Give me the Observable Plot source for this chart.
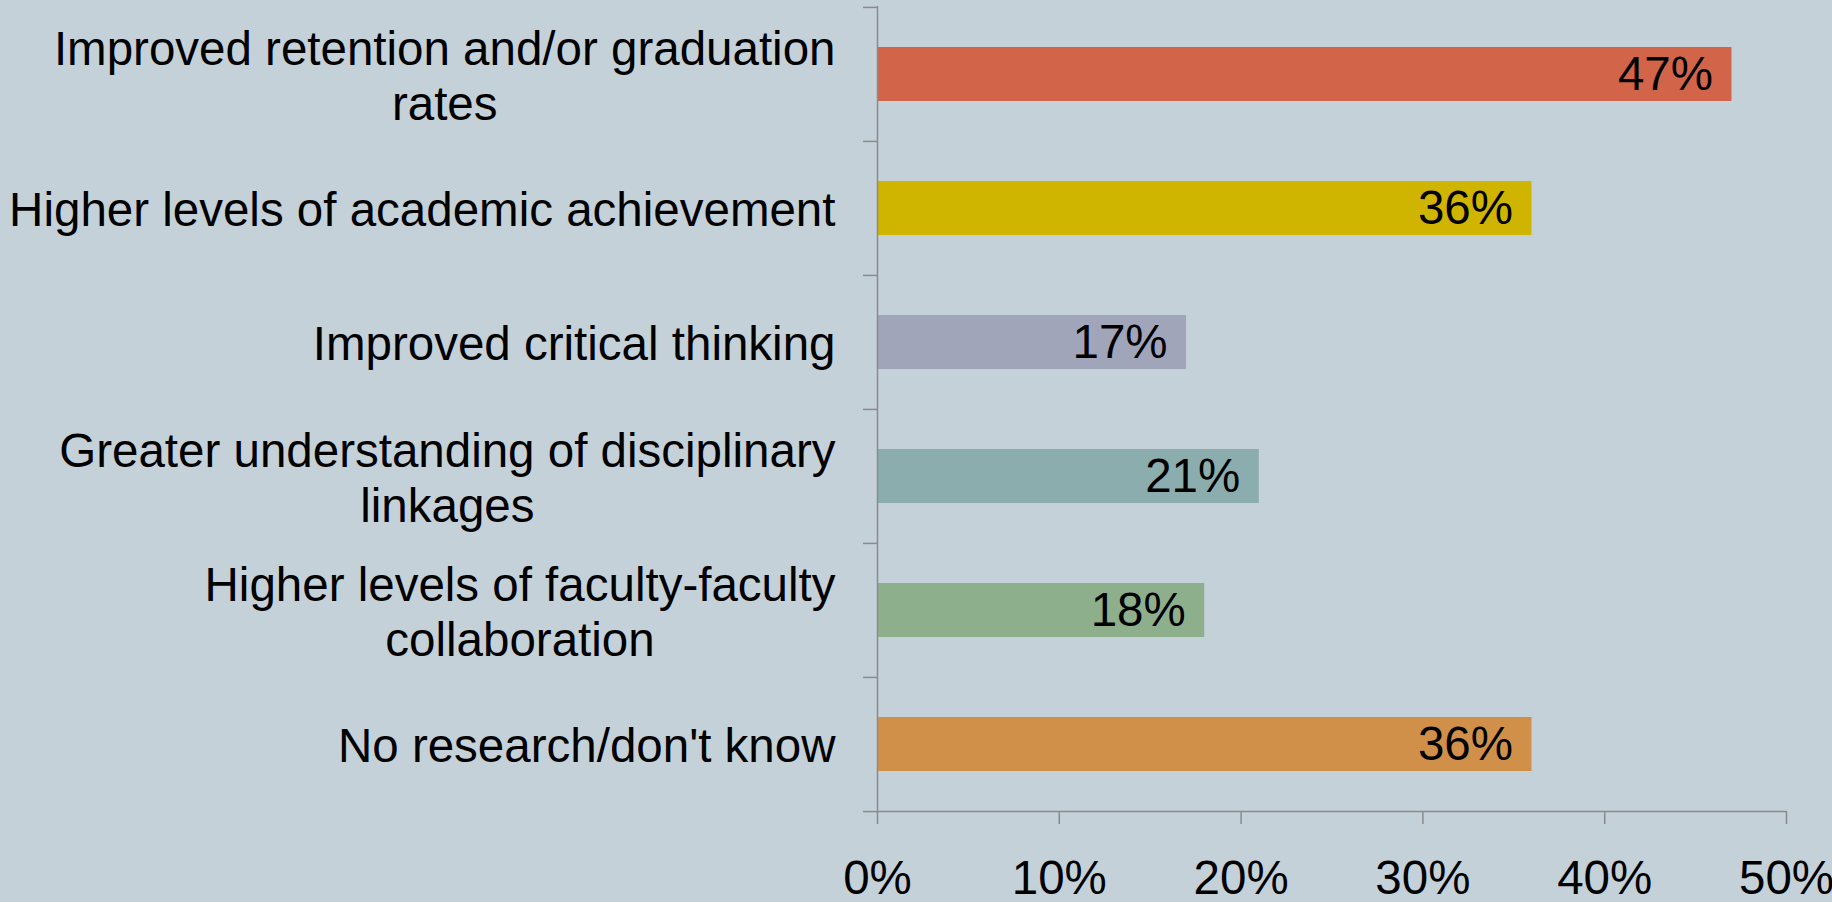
<!DOCTYPE html>
<html><head><meta charset="utf-8">
<script src="https://cdn.jsdelivr.net/npm/d3@7"></script>
<script src="https://cdn.jsdelivr.net/npm/@observablehq/plot@0.6"></script>
<style>
html,body{margin:0;padding:0;background:#C5D1D8;overflow:hidden}
#chart{width:1832px;height:902px}
</style></head><body><div id="chart"></div>
<script>
const categories = [
  "Improved retention and/or graduation rates",
  "Higher levels of academic achievement",
  "Improved critical thinking",
  "Greater understanding of disciplinary linkages",
  "Higher levels of faculty-faculty collaboration",
  "No research/don't know"
];
const labelLines = [
  "Improved retention and/or graduation\nrates",
  "Higher levels of academic achievement",
  "Improved critical thinking",
  "Greater understanding of disciplinary\nlinkages",
  "Higher levels of faculty-faculty\ncollaboration",
  "No research/don't know"
];
const values = [0.47, 0.36, 0.17, 0.21, 0.18, 0.36];
const xTicks = [0, 0.1, 0.2, 0.3, 0.4, 0.5];
const colors = ["#D26549", "#CFB500", "#A1A5BA", "#8BADAD", "#8EAF8C", "#D19049"];

const data = categories.map((c, i) => ({category: c, value: values[i]}));
const W = 1832, H = 902, mt = 6, mb = 91;
const step = (H - mt - mb) / categories.length;
const axisColor = "#8a8a8a";
const pct = d3.format(".0%");

const chart = Plot.plot({
  width: W, height: H,
  marginLeft: 877, marginRight: 46, marginTop: mt, marginBottom: mb,
  style: {background: "transparent", fontFamily: "'Liberation Sans', Arial, sans-serif", fontSize: "47.5px", color: "#000", overflow: "visible"},
  x: {domain: [0, 0.5]},
  y: {domain: categories, paddingInner: 0.6, paddingOuter: 0.3},
  color: {domain: categories, range: colors},
  marks: [
    Plot.barX(data, {x: "value", y: "category", fill: "category"}),
    Plot.ruleX([0], {stroke: axisColor, strokeWidth: 1.5}),
    Plot.ruleY([categories[categories.length - 1]], {x1: 0, x2: 0.5, dy: step / 2, stroke: axisColor, strokeWidth: 1.5}),
    Plot.axisY({tickSize: 14, fill: "none", stroke: axisColor, strokeWidth: 1.5, dy: -step / 2, label: null}),
    Plot.axisY({ticks: [categories[categories.length - 1]], tickSize: 14, fill: "none", stroke: axisColor, strokeWidth: 1.5, dy: step / 2, label: null}),
    Plot.axisY({tickSize: 0, tickPadding: 42, tickFormat: d => labelLines[categories.indexOf(d)], fontSize: 47.5, lineHeight: 1.17, fill: "#000", label: null, ariaLabel: "y-axis labels"}),
    Plot.axisX({ticks: xTicks, tickSize: 13, tickPadding: 36, stroke: axisColor, strokeWidth: 1.5, fill: "#000", tickFormat: pct, fontSize: 47.5, label: null}),
    Plot.text(data, {x: "value", y: "category", text: d => pct(d.value), textAnchor: "end", dx: -19, fontSize: 47.5, fill: "#000"})
  ]
});
document.getElementById("chart").appendChild(chart);

// Center the lines of wrapped category labels within their right-aligned block
chart.querySelectorAll("text").forEach(t => {
  const spans = t.querySelectorAll("tspan");
  if (spans.length < 2) return;
  let maxW = 0;
  spans.forEach(s => { maxW = Math.max(maxW, s.getComputedTextLength()); });
  const anchorEl = t.closest("[text-anchor]");
  t.setAttribute("text-anchor", "middle");
  spans.forEach(s => s.setAttribute("x", -maxW / 2));
});
</script>
</body></html>
